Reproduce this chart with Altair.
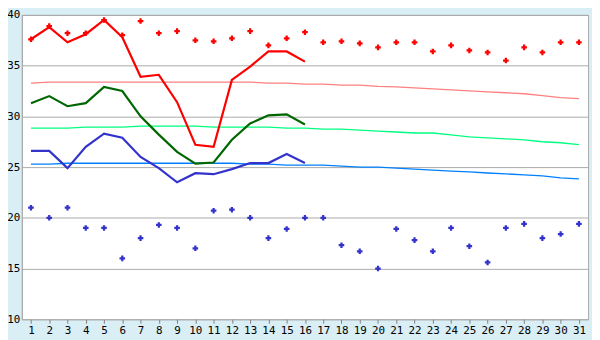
import altair as alt
import pandas as pd

days = list(range(1, 32))
days_obs = list(range(1, 17))

# record highs (red markers) and record lows (blue markers)
rec_max = [37.6, 38.9, 38.2, 38.2, 39.5, 38.0, 39.4, 38.2, 38.4, 37.5, 37.4, 37.7, 38.4, 37.0, 37.7,
           38.3, 37.3, 37.4, 37.2, 36.8, 37.3, 37.3, 36.4, 37.0, 36.5, 36.3, 35.5, 36.8, 36.3, 37.3, 37.3]
rec_min = [21.0, 20.0, 21.0, 19.0, 19.0, 16.0, 18.0, 19.3, 19.0, 17.0, 20.7, 20.8, 20.0, 18.0, 18.9,
           20.0, 20.0, 17.3, 16.7, 15.0, 18.9, 17.8, 16.7, 19.0, 17.2, 15.6, 19.0, 19.4, 18.0, 18.4, 19.4]

# observed daily max / mean / min (days 1-16)
obs_max = [37.6, 38.8, 37.3, 38.1, 39.5, 37.8, 33.9, 34.1, 31.4, 27.2, 27.0, 33.6, 34.9, 36.4, 36.4, 35.4]
obs_mean = [31.3, 32.0, 31.0, 31.3, 32.9, 32.5, 30.0, 28.2, 26.5, 25.35, 25.45, 27.7, 29.3, 30.1, 30.2, 29.2]
obs_min = [26.6, 26.6, 24.9, 27.0, 28.3, 27.9, 26.0, 24.9, 23.5, 24.4, 24.3, 24.8, 25.4, 25.4, 26.3, 25.4]

# normals
norm_max = [33.28, 33.37, 33.37, 33.37, 33.37, 33.37, 33.37, 33.37, 33.37, 33.37, 33.37, 33.37, 33.37, 33.28, 33.28,
            33.18, 33.18, 33.09, 33.09, 32.96, 32.90, 32.80, 32.71, 32.61, 32.52, 32.42, 32.33, 32.23, 32.04, 31.85, 31.75]
norm_mean = [28.85, 28.85, 28.85, 28.94, 28.94, 28.94, 29.04, 29.04, 29.04, 29.04, 28.94, 28.94, 28.94, 28.94, 28.85,
             28.84, 28.75, 28.75, 28.65, 28.55, 28.46, 28.36, 28.36, 28.17, 27.98, 27.88, 27.79, 27.69, 27.50, 27.40, 27.21]
norm_min = [25.29, 25.29, 25.38, 25.38, 25.38, 25.38, 25.38, 25.38, 25.38, 25.38, 25.38, 25.38, 25.29, 25.29, 25.19,
            25.19, 25.19, 25.09, 25.00, 25.00, 24.90, 24.80, 24.71, 24.61, 24.52, 24.42, 24.33, 24.23, 24.14, 23.94, 23.85]

rows = []
for name, vals, dd in [
    ("norm_max", norm_max, days), ("norm_mean", norm_mean, days), ("norm_min", norm_min, days),
    ("obs_max", obs_max, days_obs), ("obs_mean", obs_mean, days_obs), ("obs_min", obs_min, days_obs),
]:
    for d, v in zip(dd, vals):
        rows.append({"day": d, "v": v, "s": name})
lines_df = pd.DataFrame(rows)

pts = []
for name, vals in [("rec_max", rec_max), ("rec_min", rec_min)]:
    for d, v in zip(days, vals):
        pts.append({"day": d, "v": v, "s": name})
pts_df = pd.DataFrame(pts)

FONT = "DejaVu Sans Mono"

x = alt.X("day:Q", title=None,
          scale=alt.Scale(domain=[0.5, 31.5], nice=False, zero=False),
          axis=alt.Axis(values=days, format="d", grid=False, tickSize=4, tickColor="#808080",
                        domain=False, labelPadding=1, labelFont=FONT, labelFontSize=11,
                        labelColor="#000000", labelFlush=False))
y = alt.Y("v:Q", title=None,
          scale=alt.Scale(domain=[10, 40], nice=False, zero=False),
          axis=alt.Axis(values=[10, 15, 20, 25, 30, 35, 40], grid=True, gridColor="#AAAAAA",
                        tickSize=0, domainColor="#AAAAAA", labelPadding=2, labelFont=FONT,
                        labelFontSize=11, labelColor="#000000", labelFlush=False))

norm_dom = ["norm_max", "norm_mean", "norm_min"]
norm_rng = ["#FF8080", "#00FF80", "#0080FF"]
obs_dom = ["obs_max", "obs_mean", "obs_min"]
obs_rng = ["#FF0000", "#006600", "#3333CC"]

norm_layer = alt.Chart(lines_df).transform_filter(
    alt.FieldOneOfPredicate(field="s", oneOf=norm_dom)
).mark_line(strokeWidth=1.3, interpolate="linear").encode(
    x=x, y=y,
    color=alt.Color("s:N", scale=alt.Scale(domain=norm_dom, range=norm_rng), legend=None),
    detail="s:N",
)

obs_layer = alt.Chart(lines_df).transform_filter(
    alt.FieldOneOfPredicate(field="s", oneOf=obs_dom)
).mark_line(strokeWidth=2.2).encode(
    x=x, y=y,
    stroke=alt.Stroke("s:N", scale=alt.Scale(domain=obs_dom, range=obs_rng), legend=None),
    detail="s:N",
)

pt_layer = alt.Chart(pts_df).mark_point(shape="cross", filled=True, size=32, opacity=1).encode(
    x=x, y=y,
    fill=alt.Fill("s:N", scale=alt.Scale(domain=["rec_max", "rec_min"], range=["#FF0000", "#3333CC"]),
                  legend=None),
)

chart = alt.layer(norm_layer, obs_layer, pt_layer).resolve_scale(
    color="independent", stroke="independent", fill="independent"
).properties(
    width=573, height=308,
    autosize=alt.AutoSizeParams(type="none"),
    padding={"left": 14, "top": 5, "right": 4, "bottom": 22},
    background="#D9EEF5",
).configure_view(
    stroke="#AAAAAA", strokeWidth=1, fill="#FFFFFF"
)

chart.save("out.html", embed_options={"renderer": "svg", "actions": False})
